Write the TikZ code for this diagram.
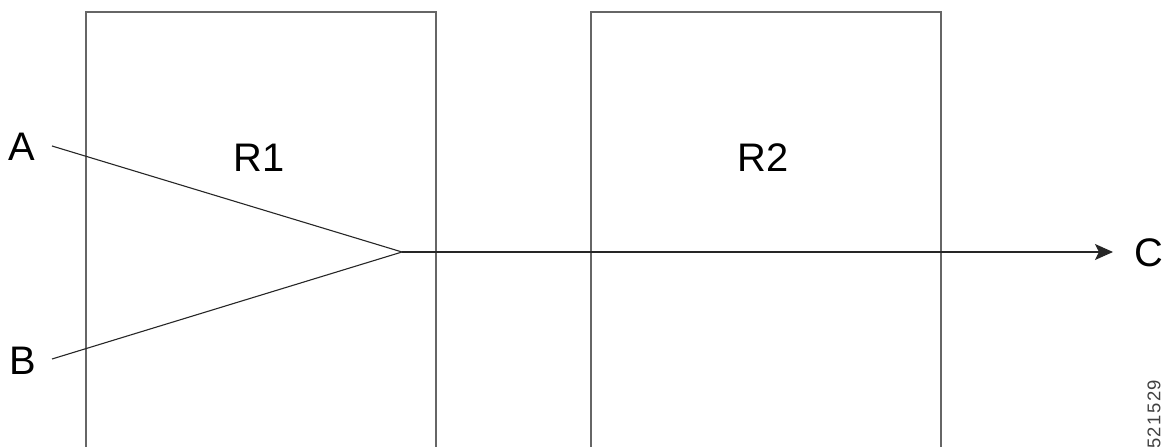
\documentclass[tikz,border=0pt]{standalone}
\usepackage{fontspec}
\setmainfont{Liberation Sans}
\usetikzlibrary{arrows.meta}
\begin{document}
\begin{tikzpicture}[x=1bp,y=-1bp,
  boxline/.style={draw=black!60,line width=1.4bp},
  sigline/.style={draw=black!85,line width=1.1bp},
  lbl/.style={font=\fontsize{40}{40}\selectfont,inner sep=0pt,anchor=center},
  tag/.style={font=\fontsize{18.5}{18.5}\selectfont\addfontfeature{LetterSpace=8},text=black!75,inner sep=0pt}]
\useasboundingbox (0,0) rectangle (1171,447);
\begin{scope}
\clip (0,0) rectangle (1171,447);
\draw[boxline] (86,12) rectangle (436,470);
\draw[boxline] (591,12) rectangle (941,470);
\end{scope}
\node[lbl] (r1) at (259,158) {R1};
\node[lbl] (r2) at (763,158) {R2};
\node[lbl] (a) at (22,147) {A};
\node[lbl] (b) at (23,361) {B};
\node[lbl] (c) at (1149,253) {C};
\coordinate (as) at (52,146);
\coordinate (bs) at (52,359);
\coordinate (apex) at (402,252);
\coordinate (ce) at (1113,252);
\draw[sigline] (as) -- (apex);
\draw[sigline] (bs) -- (apex);
\draw[sigline,-{Stealth[length=18bp,width=16bp,inset=4bp]}] (apex) -- (ce);
\node[tag,rotate=90,anchor=west] (num) at (1154,449) {521529};
\end{tikzpicture}
\end{document}
